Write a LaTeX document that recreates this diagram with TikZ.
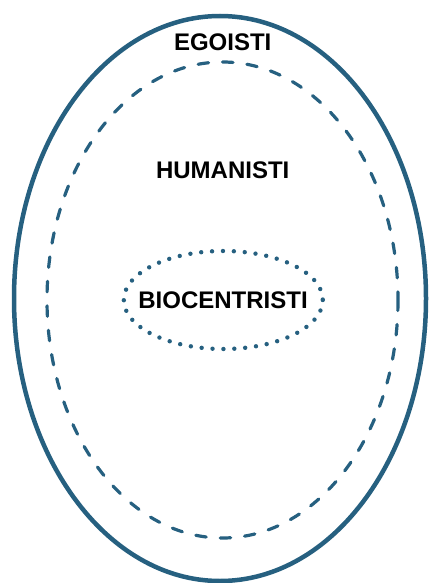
\documentclass[tikz,border=0pt]{standalone}
\usepackage{fontspec}
\setmainfont{Liberation Sans}
\definecolor{ringblue}{RGB}{38,96,128}
\begin{document}
\begin{tikzpicture}[x=1pt,y=-1pt,
  lbl/.style={font=\fontsize{24}{28}\selectfont\bfseries, text=black, inner sep=0pt},
  outerring/.style={draw=ringblue, line width=4.5pt},
  dashring/.style={draw=ringblue, line width=3.2pt, line cap=round, dash pattern=on 10.5pt off 14pt},
  dotring/.style={draw=ringblue, line width=4.4pt, line cap=round, dash pattern=on 0pt off 10.9pt}]
\useasboundingbox (0,0) rectangle (429,583);
\clip (0,0) rectangle (429,583);
\draw[outerring] (220,298.5) ellipse [x radius=206, y radius=282.5];
\draw[dashring] (222.5,300) ellipse [x radius=175.5, y radius=238];
\draw[dotring] (223.3,300) ellipse [x radius=99.5, y radius=49];
\node[lbl] (ego) at (222.7,42.7) {EGOISTI};
\node[lbl] (hum) at (222.7,170.7) {HUMANISTI};
\node[lbl] (bio) at (223,300.7) {BIOCENTRISTI};
\end{tikzpicture}
\end{document}
